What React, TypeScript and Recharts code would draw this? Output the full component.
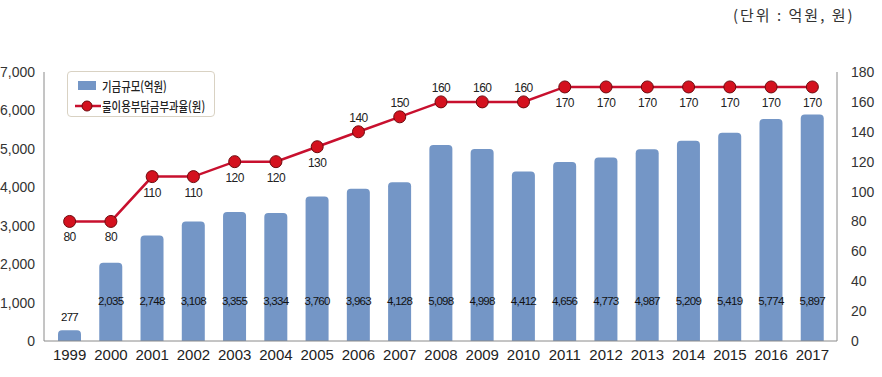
import React from "react";
import { ComposedChart, Bar, Line, XAxis, YAxis, LabelList } from "recharts";

const years = ["1999", "2000", "2001", "2002", "2003", "2004", "2005", "2006", "2007", "2008", "2009", "2010", "2011", "2012", "2013", "2014", "2015", "2016", "2017"];
const fundSize = [277, 2035, 2748, 3108, 3355, 3334, 3760, 3963, 4128, 5098, 4998, 4412, 4656, 4773, 4987, 5209, 5419, 5774, 5897];
const chargeRate = [80, 80, 110, 110, 120, 120, 130, 140, 150, 160, 160, 160, 170, 170, 170, 170, 170, 170, 170];
const leftTicks = [0, 1000, 2000, 3000, 4000, 5000, 6000, 7000];
const rightTicks = [0, 20, 40, 60, 80, 100, 120, 140, 160, 180];

const BAR_COLOR = "#7496c6";
const LINE_COLOR = "#c8102e";
const NUM_FONT = "'Liberation Sans', Arial, sans-serif";
const KR_FONT = "'Noto Sans CJK KR', 'Noto Sans', sans-serif";

const data = years.map((year, i) => ({ year, fund: fundSize[i], rate: chargeRate[i] }));

const fmt = (v: number) => v.toLocaleString("en-US");

const BarValue = (props: any) => {
    const { x, y, width, height, value } = props;
    const cx = x + width / 2;
    // 작은 막대는 위쪽, 나머지는 막대 안 아래쪽
    const ty = height < 50 ? y - 9 : y + height - 36;
    return (
        <text x={cx} y={ty} textAnchor="middle" fontSize={11.5} fontFamily={NUM_FONT} fill="#111" letterSpacing={-0.7}>
            {fmt(value)}
        </text>
    );
};

const RateValue = (props: any) => {
    const { x, y, value, index } = props;
    // 140~160 구간은 막대와 겹쳐서 위쪽에 표기
    const above = index >= 7 && index <= 11;
    return (
        <text x={x} y={above ? y - 10 : y + 20} textAnchor="middle" fontSize={12} fontFamily={NUM_FONT} fill="#222" letterSpacing={-0.5}>
            {value}
        </text>
    );
};

const krText = (s: string) => (
    <span style={{ display: "inline-block", transform: "scaleX(0.8)", transformOrigin: "left center", whiteSpace: "nowrap" }}>{s}</span>
);

const LegendBox = () => (
    <div
        style={{
            position: "absolute",
            left: 67,
            top: 71,
            width: 148,
            height: 46,
            border: "1.5px solid #d9d2c3",
            borderRadius: 4,
            background: "#fff",
            boxSizing: "border-box",
            fontFamily: KR_FONT,
            fontSize: 13,
            fontWeight: 500,
            color: "#222",
            padding: "5px 0 0 7px",
            zIndex: 2,
            overflow: "hidden",
        }}
    >
        <div style={{ display: "flex", alignItems: "center", height: 17 }}>
            <span style={{ display: "inline-block", flexShrink: 0, width: 18, height: 9, background: BAR_COLOR, marginLeft: 3, marginRight: 6 }} />
            {krText("기금규모(억원)")}
        </div>
        <div style={{ display: "flex", alignItems: "center", height: 19, marginTop: 2 }}>
            <svg width={26} height={12} style={{ flexShrink: 0, marginRight: 1 }}>
                <line x1={0} y1={6} x2={26} y2={6} stroke={LINE_COLOR} strokeWidth={2.5} />
                <circle cx={12} cy={6} r={5} fill="#d4111e" stroke="#6e0a0e" strokeWidth={1} />
            </svg>
            {krText("물이용부담금부과율(원)")}
        </div>
    </div>
);

export default function App() {
    return (
        <div style={{ position: "absolute", left: 0, top: 0, width: 882, height: 377, background: "#fff" }}>
            <div
                style={{
                    position: "absolute",
                    left: 733,
                    top: 4,
                    fontFamily: KR_FONT,
                    fontSize: 15,
                    color: "#333",
                    whiteSpace: "nowrap",
                    letterSpacing: 2,
                }}
            >
                (단위 : 억원, 원)
            </div>
            <LegendBox />
            <ComposedChart width={882} height={377} data={data} margin={{ top: 72, right: 0, bottom: 0, left: 0 }}>
                <XAxis
                    dataKey="year"
                    padding={{ left: 5, right: 4 }}
                    tickLine={false}
                    axisLine={{ stroke: "#8a8a8a" }}
                    tick={{ fontSize: 15, fontFamily: NUM_FONT, fill: "#222" }}
                    tickMargin={2}
                    interval={0}
                    height={36}
                />
                <YAxis
                    yAxisId="left"
                    width={44}
                    domain={[0, 7000]}
                    ticks={leftTicks}
                    tickFormatter={fmt}
                    tickLine={false}
                    axisLine={{ stroke: "#8a8a8a" }}
                    tick={{ fontSize: 14, fontFamily: NUM_FONT, fill: "#333" }}
                    tickMargin={3}
                />
                <YAxis
                    yAxisId="right"
                    orientation="right"
                    width={45}
                    domain={[0, 180]}
                    ticks={rightTicks}
                    tickLine={false}
                    axisLine={{ stroke: "#8a8a8a" }}
                    tick={{ fontSize: 14, fontFamily: NUM_FONT, fill: "#333", textAnchor: "start" }}
                    tickMargin={8}
                />
                <Bar yAxisId="left" dataKey="fund" name="기금규모(억원)" fill={BAR_COLOR} barSize={23} radius={[4, 4, 0, 0]} isAnimationActive={false}>
                    <LabelList dataKey="fund" content={BarValue} />
                </Bar>
                <Line
                    yAxisId="right"
                    dataKey="rate"
                    name="물이용부담금부과율(원)"
                    type="linear"
                    stroke={LINE_COLOR}
                    strokeWidth={2.5}
                    dot={{ r: 6, fill: "#d4111e", stroke: "#6e0a0e", strokeWidth: 1 }}
                    isAnimationActive={false}
                >
                    <LabelList dataKey="rate" content={RateValue} />
                </Line>
            </ComposedChart>
        </div>
    );
}
